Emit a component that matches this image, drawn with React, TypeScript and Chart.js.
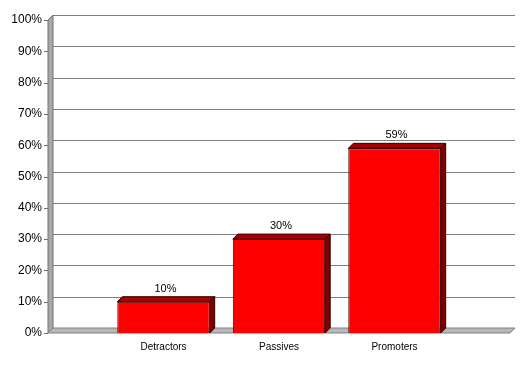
import React, { useEffect, useRef } from "react";
import { Chart, registerables } from "chart.js";

Chart.register(...registerables);

const categories: string[] = ["Detractors", "Passives", "Promoters"];
const values: number[] = [10, 30, 59];
const yTicksMax = 100;
const yTickStep = 10;

const FONT = "Arial, 'Liberation Sans', sans-serif";
const WALL = 5;
const BAR_DEPTH = 5;

const threeD = {
  id: "threeD",
  beforeDatasetsDraw(chart: any) {
    const { ctx, chartArea } = chart;
    const { left, right, top, bottom } = chartArea;
    const ys = chart.scales.y;
    const d = WALL;
    ctx.save();
    // back wall gridlines
    ctx.strokeStyle = "#808080";
    ctx.lineWidth = 1;
    for (let v = yTickStep; v <= yTicksMax; v += yTickStep) {
      const y = Math.round(ys.getPixelForValue(v) - d) + 0.5;
      ctx.beginPath();
      ctx.moveTo(left + d, y);
      ctx.lineTo(right + d, y);
      ctx.stroke();
    }
    // side wall
    ctx.beginPath();
    ctx.moveTo(left, bottom);
    ctx.lineTo(left, top);
    ctx.lineTo(left + d, top - d);
    ctx.lineTo(left + d, bottom - d);
    ctx.closePath();
    ctx.fillStyle = "#a8a8a8";
    ctx.fill();
    ctx.strokeStyle = "#707070";
    ctx.stroke();
    // floor
    ctx.beginPath();
    ctx.moveTo(left, bottom);
    ctx.lineTo(right, bottom);
    ctx.lineTo(right + d, bottom - d);
    ctx.lineTo(left + d, bottom - d);
    ctx.closePath();
    ctx.fillStyle = "#b8b8b8";
    ctx.fill();
    ctx.strokeStyle = "#808080";
    ctx.stroke();
    // y tick marks
    ctx.strokeStyle = "#707070";
    for (let v = 0; v <= yTicksMax; v += yTickStep) {
      const y = Math.round(ys.getPixelForValue(v)) + 0.5;
      ctx.beginPath();
      ctx.moveTo(left - 4, y);
      ctx.lineTo(left, y);
      ctx.stroke();
    }
    ctx.restore();
  },
  afterDatasetsDraw(chart: any) {
    const { ctx } = chart;
    const meta = chart.getDatasetMeta(0);
    const data = chart.data.datasets[0].data;
    const b = BAR_DEPTH;
    ctx.save();
    meta.data.forEach((el: any, i: number) => {
      const v = data[i];
      if (v === null || v === undefined) return;
      const x0 = el.x - el.width / 2;
      const x1 = el.x + el.width / 2;
      const y = el.y;
      const base = el.base;
      ctx.lineWidth = 1;
      ctx.strokeStyle = "#300000";
      // top face
      ctx.beginPath();
      ctx.moveTo(x0, y);
      ctx.lineTo(x1, y);
      ctx.lineTo(x1 + b, y - b);
      ctx.lineTo(x0 + b, y - b);
      ctx.closePath();
      ctx.fillStyle = "#a80000";
      ctx.fill();
      ctx.stroke();
      // side face
      ctx.beginPath();
      ctx.moveTo(x1, y);
      ctx.lineTo(x1 + b, y - b);
      ctx.lineTo(x1 + b, base - b);
      ctx.lineTo(x1, base);
      ctx.closePath();
      ctx.fillStyle = "#800000";
      ctx.fill();
      ctx.stroke();
      // label
      ctx.fillStyle = "#000";
      ctx.font = `11px ${FONT}`;
      ctx.textAlign = "center";
      ctx.textBaseline = "middle";
      ctx.fillText(`${v}%`, el.x + 2, y - 13);
    });
    ctx.restore();
  },
};

export default function App() {
  const ref = useRef<HTMLCanvasElement | null>(null);
  useEffect(() => {
    document.body.style.margin = "0";
    const labels = ["", ...categories, ""];
    const dataVals = [null, ...values, null];
    const chart = new Chart(ref.current as HTMLCanvasElement, {
      type: "bar",
      data: {
        labels,
        datasets: [
          {
            data: dataVals as any,
            backgroundColor: "#ff0000",
            borderColor: "#300000",
            borderWidth: 1,
            categoryPercentage: 0.8,
            barPercentage: 1,
          },
        ],
      },
      options: {
        animation: false,
        responsive: false,
        devicePixelRatio: 1,
        layout: { padding: { top: 20, right: 17, left: 0, bottom: 0 } },
        plugins: { legend: { display: false }, tooltip: { enabled: false } },
        scales: {
          x: {
            offset: false,
            grid: { display: false, drawTicks: false },
            border: { display: false },
            ticks: {
              color: "#000",
              font: { family: FONT, size: 10 },
              padding: 8,
              maxRotation: 0,
              autoSkip: false,
            },
            afterFit: (s: any) => {
              s.height = 54;
            },
          },
          y: {
            min: 0,
            max: yTicksMax,
            grid: { display: false, drawTicks: false },
            border: { display: false },
            ticks: {
              stepSize: yTickStep,
              color: "#000",
              font: { family: FONT, size: 12 },
              padding: 6,
              callback: (v: any) => `${v}%`,
            },
            afterFit: (s: any) => {
              s.width = 48;
            },
          },
        },
      },
      plugins: [threeD],
    });
    return () => chart.destroy();
  }, []);
  return (
    <div style={{ width: 527, height: 387 }}>
      <canvas ref={ref} width={527} height={387} style={{ display: "block" }} />
    </div>
  );
}
